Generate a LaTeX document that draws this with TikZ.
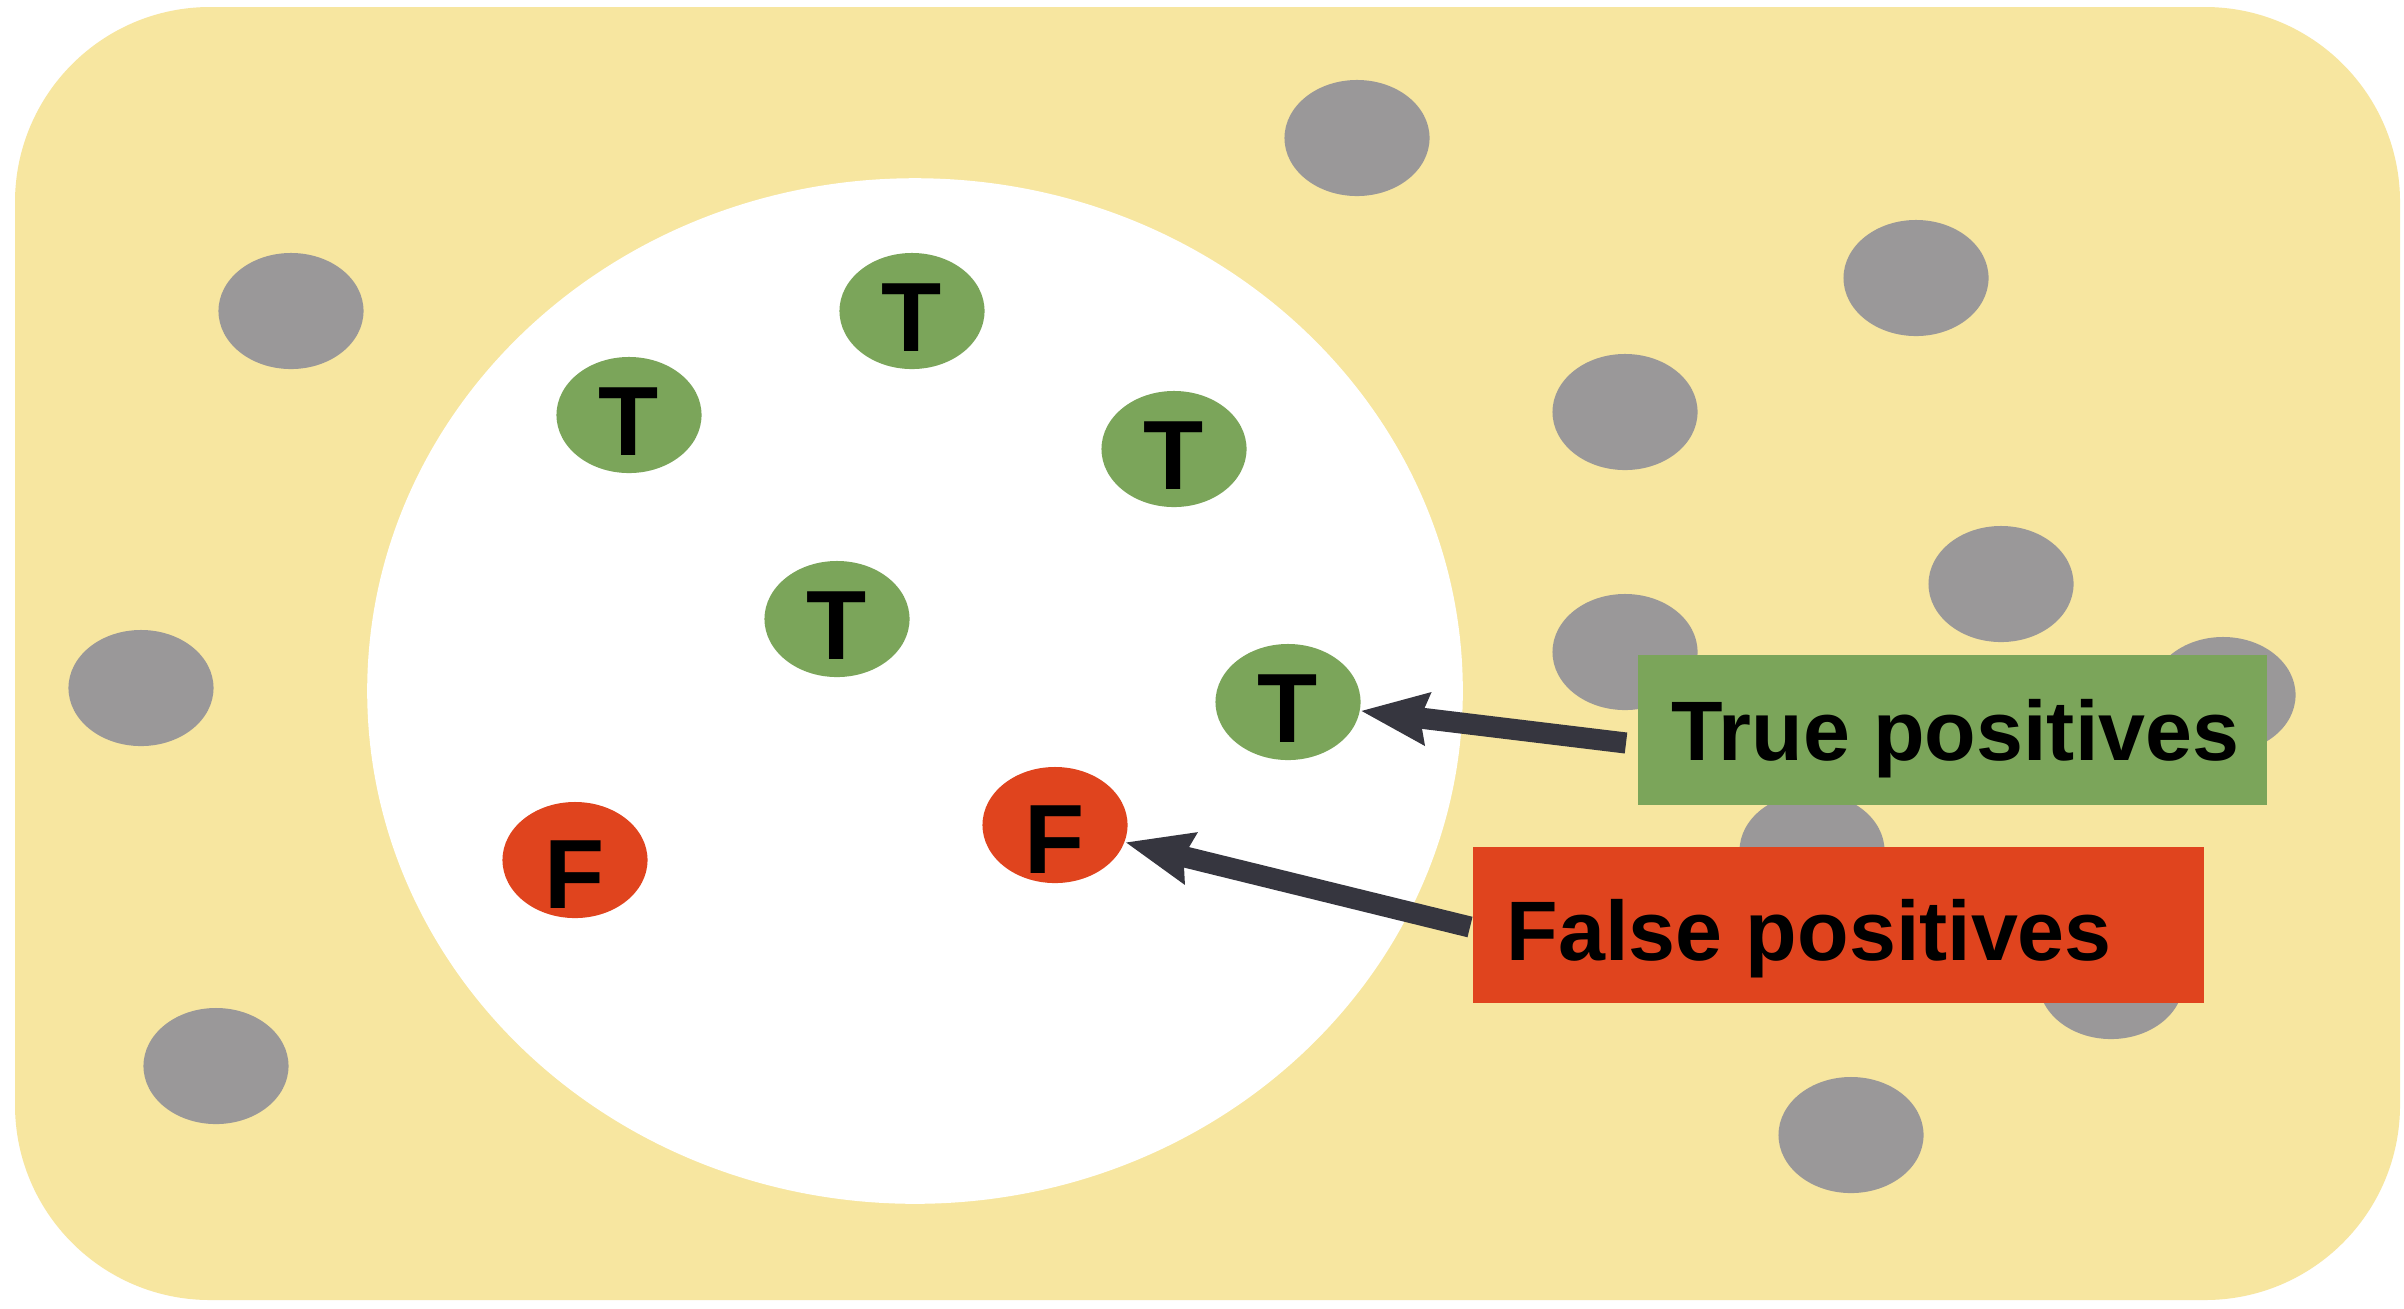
\documentclass[tikz,border=0pt]{standalone}
\usepackage{fontspec}
\setmainfont{Liberation Sans}
\usetikzlibrary{shapes.geometric,arrows.meta}
\definecolor{bgyellow}{HTML}{F7E6A0}
\definecolor{dotgray}{HTML}{9A9899}
\definecolor{tgreen}{HTML}{7BA55A}
\definecolor{fred}{HTML}{E0441E}
\definecolor{arrowgray}{HTML}{36363F}
\newcommand{\tmark}{\raisebox{-0.40cm}[0pt][0pt]{T}}
\newcommand{\fmark}{\raisebox{-0.48cm}[0pt][0pt]{F}}
\tikzset{
  dot/.style={ellipse, minimum width=1.45cm, minimum height=1.16cm, inner sep=0pt},
  graydot/.style={dot, fill=dotgray},
  tdot/.style={dot, fill=tgreen, font=\fontsize{28}{32}\selectfont\bfseries, text=black},
  fdot/.style={dot, fill=fred, font=\fontsize{28}{32}\selectfont\bfseries, text=black},
  label box/.style={rectangle, anchor=west, inner xsep=0.34cm, inner ysep=0pt,
    font=\fontsize{24}{30}\selectfont\bfseries, text=black, text depth=0pt},
  arr/.style={draw=arrowgray, line width=6pt,
    -{Stealth[length=0.66cm, width=0.50cm, inset=0.06cm]}}
}
\begin{document}
\begin{tikzpicture}[x=0.01cm, y=-0.01cm]
\useasboundingbox (0,0) rectangle (2404,1308);
\fill[white] (0,0) rectangle (2404,1308);
% background
\fill[bgyellow, rounded corners=1.95cm] (15,7) rectangle (2400,1300);
% gray dots
\node[graydot] (g1) at (291,311) {};
\node[graydot] (g2) at (1357,138) {};
\node[graydot] (g3) at (1916,278) {};
\node[graydot] (g4) at (1625,412) {};
\node[graydot] (g5) at (2001,584) {};
\node[graydot] (g6) at (1625,652) {};
\node[graydot] (g7) at (2223,695) {};
\node[graydot] (g8) at (141,688) {};
\node[graydot] (g9) at (216,1066) {};
\node[graydot] (g10) at (1812,851) {};
\node[graydot] (g11) at (2111,981) {};
\node[graydot] (g12) at (1851,1135) {};
% white set
\node[ellipse, fill=white, minimum width=10.95cm, minimum height=10.25cm, inner sep=0pt] (sel) at (915,691) {};
% true / false
\node[tdot] (t1) at (912,311) {\tmark};
\node[tdot] (t2) at (629,415) {\tmark};
\node[tdot] (t3) at (1174,449) {\tmark};
\node[tdot] (t4) at (837,619) {\tmark};
\node[tdot] (t5) at (1288,702) {\tmark};
\node[fdot] (f1) at (575,860) {\fmark};
\node[fdot] (f2) at (1055,825) {\fmark};
% label boxes
\node[label box, fill=tgreen, minimum height=1.50cm, text height=0.60cm] (tp) at (1637,730) {\makebox[5.61cm][l]{True positives}};
\node[label box, fill=fred, minimum height=1.55cm, text height=0.70cm] (fp) at (1472,925) {\makebox[6.63cm][l]{False positives}};
% arrows
\coordinate (tpa) at (1626,743);
\coordinate (fpa) at (1470,927);
\draw[arr] (tpa) -- (t5);
\draw[arr] (fpa) -- (f2);
\end{tikzpicture}
\end{document}
